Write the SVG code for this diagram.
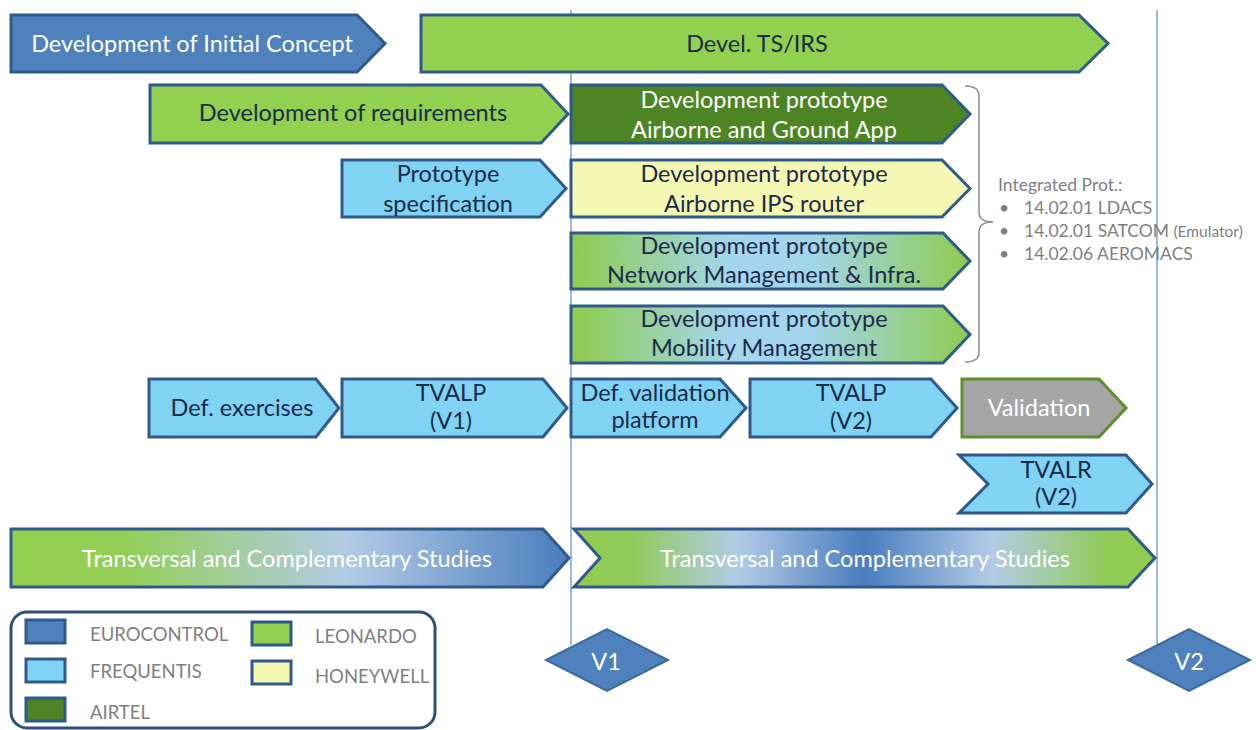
<svg xmlns="http://www.w3.org/2000/svg" width="1256" height="730" viewBox="0 0 1256 730">
<style>
  .bar { stroke: #2f5a8a; stroke-width: 3; stroke-linejoin: miter; }
  .t { font-family: Lato, "Liberation Sans", sans-serif; font-size: 23.5px; text-anchor: middle; fill: #1b2b4a; }
  .w { fill: #ffffff; }
  .g { font-family: Lato, "Liberation Sans", sans-serif; font-size: 17.5px; fill: #7f7f7f; }
  .lg { font-family: Lato, "Liberation Sans", sans-serif; font-size: 18.5px; fill: #7f7f7f; }
  .euro { fill: #4f81bd; }
  .freq { fill: #80d3f3; }
  .airtel { fill: #4d8424; }
  .leo { fill: #92d050; }
  .honey { fill: #f5f8b3; }
  .vline { stroke: #5b8ac6; stroke-width: 1.2; fill: none; }
</style>
<defs>
  <linearGradient id="gNet" x1="0" y1="0" x2="1" y2="0">
    <stop offset="0" stop-color="#8ecb4e"/>
    <stop offset="0.4" stop-color="#a4d6ee"/>
    <stop offset="0.6" stop-color="#a2d5ec"/>
    <stop offset="1" stop-color="#8fcb4f"/>
  </linearGradient>
  <linearGradient id="gTr1" x1="0" y1="0" x2="1" y2="0">
    <stop offset="0" stop-color="#92d050"/>
    <stop offset="0.2" stop-color="#92cf55"/>
    <stop offset="0.6" stop-color="#b3cbe6"/>
    <stop offset="1" stop-color="#4a7dbd"/>
  </linearGradient>
  <linearGradient id="gTr2" x1="0" y1="0" x2="1" y2="0">
    <stop offset="0" stop-color="#8fcd4f"/>
    <stop offset="0.1" stop-color="#8fcb5a"/>
    <stop offset="0.28" stop-color="#b3cbe6"/>
    <stop offset="0.5" stop-color="#4a7dbf"/>
    <stop offset="0.72" stop-color="#b3cbe6"/>
    <stop offset="0.92" stop-color="#8fcb55"/>
    <stop offset="1" stop-color="#8fcd4f"/>
  </linearGradient>
</defs>

<g id="connectors">
  <line class="vline" x1="571" y1="10" x2="571" y2="645"/>
  <line class="vline" x1="1157" y1="10" x2="1157" y2="645"/>
  <path id="brace" d="M965,86 Q979,86 979,96 V212 Q979,222 993,222 Q979,222 979,232 V352 Q979,362 965,362" fill="none" stroke="#8c8c8c" stroke-width="1.5"/>
</g>

<g id="concept">
  <path class="bar euro" d="M11,15 H357 L385,43.5 L357,72 H11 Z"/>
  <text class="t w" x="192" y="52">Development of Initial Concept</text>
</g>
<g id="tsirs">
  <path class="bar leo" d="M421,15 H1079 L1108,43.5 L1079,72 H421 Z"/>
  <text class="t" x="757" y="52">Devel. TS/IRS</text>
</g>
<g id="requirements">
  <path class="bar leo" d="M150,85 H541 L568,114 L541,143 H150 Z"/>
  <text class="t" x="353" y="121">Development of requirements</text>
</g>
<g id="proto-app">
  <path class="bar airtel" d="M571,85 H942 L970,114 L942,143 H571 Z"/>
  <text class="t w" x="764" y="108">Development prototype</text>
  <text class="t w" x="764" y="138">Airborne and Ground App</text>
</g>
<g id="proto-spec">
  <path class="bar freq" d="M342,160 H540 L566,188.5 L540,217 H342 Z"/>
  <text class="t" x="448" y="182">Prototype</text>
  <text class="t" x="448" y="212">specification</text>
</g>
<g id="proto-ips">
  <path class="bar honey" d="M571,160 H942 L970,188.5 L942,217 H571 Z"/>
  <text class="t" x="764" y="182">Development prototype</text>
  <text class="t" x="764" y="212">Airborne IPS router</text>
</g>
<g id="proto-net">
  <path class="bar" fill="url(#gNet)" d="M571,233 H943 L970,261 L943,289 H571 Z"/>
  <text class="t" x="764" y="254">Development prototype</text>
  <text class="t" x="764" y="283">Network Management &amp; Infra.</text>
</g>
<g id="proto-mob">
  <path class="bar" fill="url(#gNet)" d="M571,306 H943 L970,334.5 L943,363 H571 Z"/>
  <text class="t" x="764" y="327">Development prototype</text>
  <text class="t" x="764" y="356">Mobility Management</text>
</g>
<g id="integrated">
  <text class="g" x="998" y="191">Integrated Prot.:</text>
  <text class="g" x="999" y="214">•</text>
  <text class="g" x="1024" y="214">14.02.01 LDACS</text>
  <text class="g" x="999" y="237">•</text>
  <text class="g" x="1024" y="237">14.02.01 SATCOM <tspan font-size="15.5">(Emulator)</tspan></text>
  <text class="g" x="999" y="260">•</text>
  <text class="g" x="1024" y="260">14.02.06 AEROMACS</text>
</g>
<g id="def-exercises">
  <path class="bar freq" d="M149,379 H316 L339,408 L316,437 H149 Z"/>
  <text class="t" x="242" y="416">Def. exercises</text>
</g>
<g id="tvalp-v1">
  <path class="bar freq" d="M342,379 H543 L567,408 L543,437 H342 Z"/>
  <text class="t" x="451" y="401">TVALP</text>
  <text class="t" x="451" y="429">(V1)</text>
</g>
<g id="def-validation">
  <path class="bar freq" d="M571,379 H720 L746,408 L720,437 H571 Z"/>
  <text class="t" x="655" y="401">Def. validation</text>
  <text class="t" x="655" y="428">platform</text>
</g>
<g id="tvalp-v2">
  <path class="bar freq" d="M750,379 H931 L957,408 L931,437 H750 Z"/>
  <text class="t" x="851" y="401">TVALP</text>
  <text class="t" x="851" y="429">(V2)</text>
</g>
<g id="validation">
  <path d="M962,379 H1099 L1126,408 L1099,437 H962 Z" fill="#a5a5a5" stroke="#5e8f2c" stroke-width="3"/>
  <text class="t w" x="1039" y="416">Validation</text>
</g>
<g id="tvalr">
  <path class="bar freq" d="M959,455 H1126 L1152,484 L1126,513 H959 L988,484 Z"/>
  <text class="t" x="1056" y="478">TVALR</text>
  <text class="t" x="1056" y="505">(V2)</text>
</g>
<g id="transversal-1">
  <path class="bar" fill="url(#gTr1)" d="M11,529 H543 L569,558 L543,587 H11 Z"/>
  <text class="t w" x="287" y="567">Transversal and Complementary Studies</text>
</g>
<g id="transversal-2">
  <path class="bar" fill="url(#gTr2)" d="M574,529 H1128 L1155,558 L1128,587 H574 L600,558 Z"/>
  <text class="t w" x="865" y="567">Transversal and Complementary Studies</text>
</g>
<g id="v1">
  <path d="M546,660 L607,629 L668,660 L607,691 Z" fill="#4f81bd" stroke="#3b6aa3" stroke-width="2"/>
  <text class="t w" x="606" y="670" font-size="27">V1</text>
</g>
<g id="v2">
  <path d="M1128,660 L1189,629 L1250,660 L1189,691 Z" fill="#4f81bd" stroke="#3b6aa3" stroke-width="2"/>
  <text class="t w" x="1189" y="670" font-size="27">V2</text>
</g>
<g id="legend">
  <rect x="11" y="612" width="424" height="116" rx="16" fill="#ffffff" stroke="#2f5177" stroke-width="3"/>
  <rect class="bar euro" x="26" y="620" width="39" height="23"/>
  <text class="lg" x="90" y="641">EUROCONTROL</text>
  <rect class="bar freq" x="26" y="659" width="39" height="23"/>
  <text class="lg" x="90" y="678">FREQUENTIS</text>
  <rect class="bar airtel" x="26" y="698" width="39" height="23"/>
  <text class="lg" x="90" y="719">AIRTEL</text>
  <rect class="bar leo" x="252" y="622" width="39" height="23"/>
  <text class="lg" x="315" y="643">LEONARDO</text>
  <rect class="bar honey" x="252" y="661" width="39" height="23"/>
  <text class="lg" x="315" y="683">HONEYWELL</text>
</g>
</svg>
